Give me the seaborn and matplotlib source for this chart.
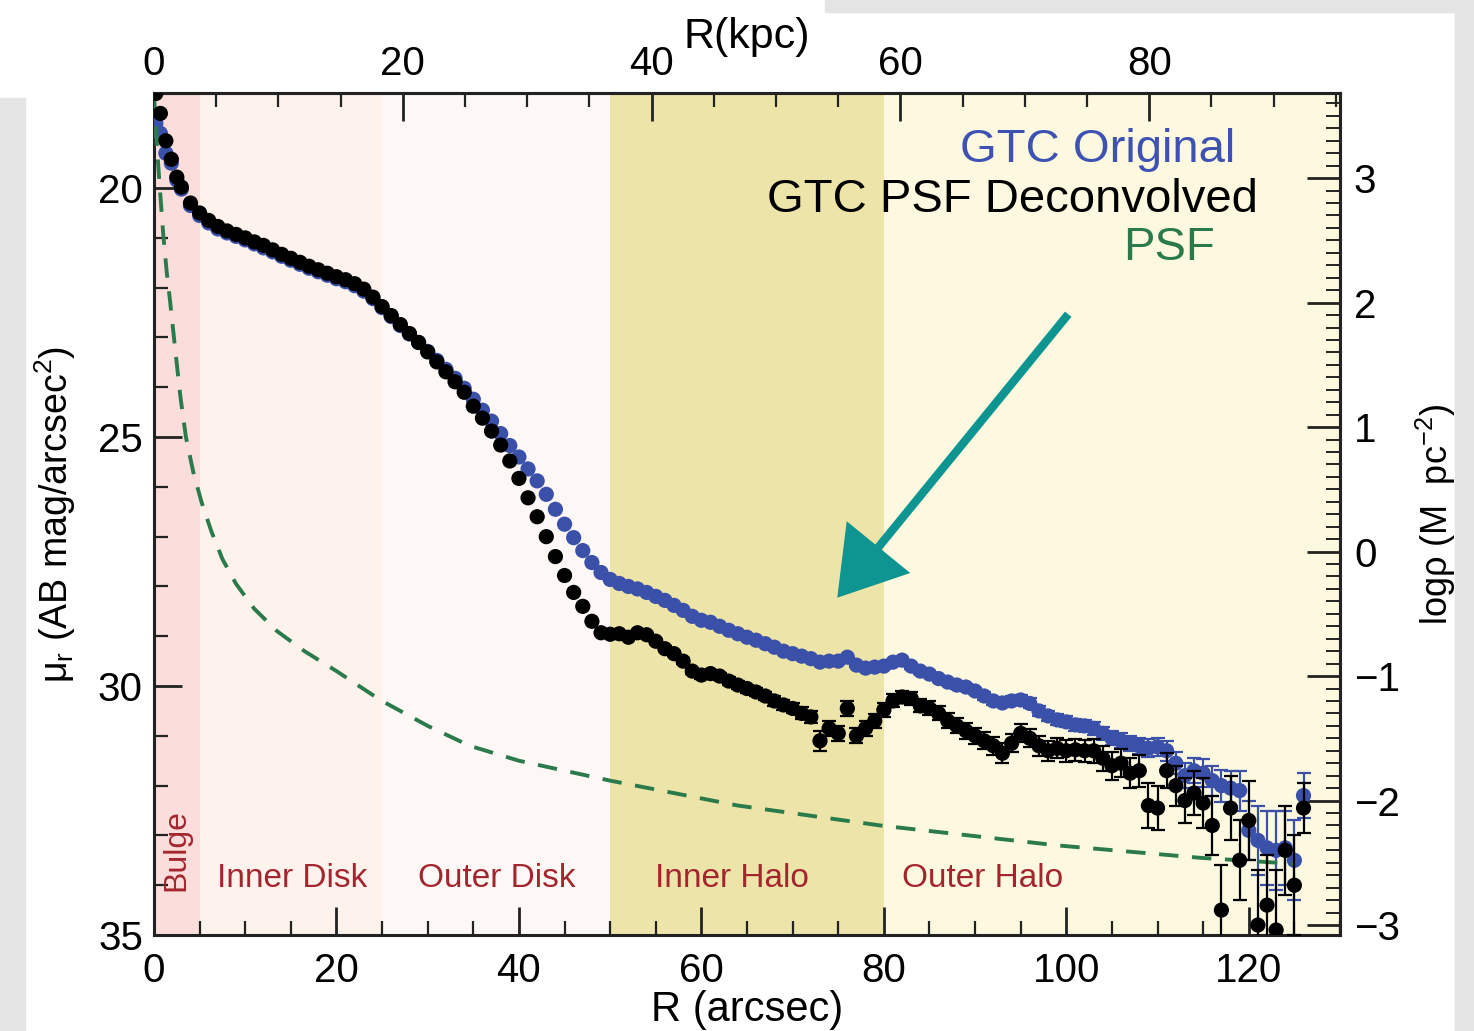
import numpy as np
import pandas as pd
import matplotlib
matplotlib.use("Agg")
import matplotlib.pyplot as plt
import seaborn as sns
from matplotlib.ticker import MultipleLocator, FixedLocator
from matplotlib.patches import Rectangle, FancyArrowPatch

# ---------------- data ----------------
R_arcsec = [0.2, 0.7, 1.3, 1.9, 2.5,
            3, 4, 5, 6, 7, 8, 9, 10, 11, 12, 13, 14, 15, 16, 17, 18, 19, 20,
            21, 22, 23, 24, 25, 26, 27, 28, 29, 30, 31, 32, 33, 34, 35, 36, 37, 38,
            39, 40, 41, 42, 43, 44, 45, 46, 47, 48, 49, 50, 51, 52, 53, 54, 55, 56,
            57, 58, 59, 60, 61, 62, 63, 64, 65, 66, 67, 68, 69, 70, 71, 72, 73, 74,
            75, 76, 77, 78, 79, 80, 81, 82, 83, 84, 85, 86, 87, 88, 89, 90, 91, 92,
            93, 94, 95, 96, 97, 98, 99, 100, 101, 102, 103, 104, 105, 106, 107, 108,
            109, 110, 111, 112, 113, 114, 115, 116, 117, 118, 119, 120, 121, 122,
            123, 124, 125, 126]

mu_deconvolved = [18.10, 18.50, 19.05, 19.42, 19.78,
                  19.98, 20.30, 20.50, 20.65, 20.77, 20.86, 20.93, 21.00, 21.08, 21.15,
                  21.24, 21.33, 21.41, 21.49, 21.57, 21.64, 21.71, 21.78, 21.84, 21.92,
                  22.03, 22.19, 22.38, 22.56, 22.74, 22.92, 23.10, 23.29, 23.49, 23.69,
                  23.89, 24.10, 24.38, 24.62, 24.88, 25.16, 25.48, 25.83, 26.22, 26.60,
                  27.00, 27.40, 27.78, 28.12, 28.40, 28.70, 28.93, 28.96, 28.95, 29.02,
                  28.93, 28.97, 29.10, 29.25, 29.35, 29.50, 29.70, 29.78, 29.75, 29.80,
                  29.90, 29.98, 30.05, 30.12, 30.20, 30.30, 30.38, 30.45, 30.55, 30.62,
                  31.10, 30.85, 30.95, 30.45, 31.00, 30.85, 30.70, 30.48, 30.30, 30.22,
                  30.25, 30.40, 30.45, 30.55, 30.70, 30.80, 30.90, 31.00, 31.10, 31.20,
                  31.35, 31.15, 30.95, 31.05, 31.20, 31.30, 31.25, 31.30, 31.28, 31.30,
                  31.30, 31.45, 31.60, 31.55, 31.75, 31.70, 32.40, 32.45, 31.70, 32.00,
                  32.30, 32.15, 32.35, 32.80, 34.50, 32.45, 33.50, 32.70, 34.80, 34.40,
                  34.90, 33.30, 34.00, 32.45]

err_deconvolved = [0.02, 0.02, 0.02, 0.02, 0.02,
                   0.02, 0.02, 0.02, 0.02, 0.02, 0.02, 0.02, 0.02, 0.02, 0.02,
                   0.02, 0.02, 0.02, 0.02, 0.02, 0.02, 0.02, 0.02, 0.02, 0.02,
                   0.02, 0.02, 0.02, 0.02, 0.02, 0.02, 0.02, 0.02, 0.02, 0.02,
                   0.02, 0.02, 0.02, 0.02, 0.02, 0.02, 0.02, 0.02, 0.02, 0.02,
                   0.02, 0.02, 0.02, 0.02, 0.03, 0.03, 0.03, 0.04, 0.04, 0.04,
                   0.04, 0.04, 0.05, 0.05, 0.05, 0.06, 0.06, 0.07, 0.07, 0.07,
                   0.08, 0.08, 0.08, 0.09, 0.09, 0.10, 0.10, 0.10, 0.12, 0.12,
                   0.20, 0.15, 0.15, 0.15, 0.15, 0.15, 0.14, 0.14, 0.13, 0.13,
                   0.13, 0.13, 0.14, 0.14, 0.15, 0.15, 0.16, 0.16, 0.17, 0.18,
                   0.20, 0.18, 0.18, 0.18, 0.20, 0.20, 0.20, 0.22, 0.22, 0.22,
                   0.24, 0.25, 0.28, 0.28, 0.30, 0.32, 0.45, 0.45, 0.35, 0.40,
                   0.45, 0.45, 0.50, 0.60, 0.90, 0.65, 0.80, 0.80, 1.10, 1.00,
                   1.20, 0.90, 1.00, 0.50]

mu_original = [18.70, 18.90, 19.30, 19.50, 19.84,
               20.02, 20.35, 20.55, 20.70, 20.82, 20.90, 20.97, 21.04, 21.12, 21.20,
               21.28, 21.37, 21.45, 21.53, 21.61, 21.68, 21.75, 21.82, 21.88, 21.96,
               22.07, 22.22, 22.40, 22.58, 22.76, 22.93, 23.10, 23.28, 23.46, 23.64,
               23.82, 24.02, 24.24, 24.46, 24.68, 24.93, 25.17, 25.40, 25.64, 25.88,
               26.15, 26.45, 26.75, 27.02, 27.28, 27.52, 27.72, 27.86, 27.94, 28.00,
               28.05, 28.12, 28.20, 28.28, 28.38, 28.48, 28.60, 28.68, 28.72, 28.80,
               28.88, 28.95, 29.02, 29.08, 29.15, 29.22, 29.30, 29.35, 29.40, 29.45,
               29.52, 29.50, 29.50, 29.42, 29.58, 29.64, 29.62, 29.60, 29.52, 29.48,
               29.60, 29.70, 29.76, 29.85, 29.92, 29.98, 30.02, 30.10, 30.20, 30.30,
               30.34, 30.30, 30.28, 30.35, 30.50, 30.60, 30.68, 30.72, 30.78, 30.80,
               30.85, 30.95, 31.05, 31.10, 31.15, 31.20, 31.25, 31.22, 31.30, 31.55,
               31.80, 31.70, 31.75, 31.90, 32.00, 32.05, 32.10, 32.90, 33.10, 33.25,
               33.30, 33.25, 33.50, 32.20]

err_original = [0.02, 0.02, 0.02, 0.02, 0.02,
                0.02, 0.02, 0.02, 0.02, 0.02, 0.02, 0.02, 0.02, 0.02, 0.02,
                0.02, 0.02, 0.02, 0.02, 0.02, 0.02, 0.02, 0.02, 0.02, 0.02,
                0.02, 0.02, 0.02, 0.02, 0.02, 0.02, 0.02, 0.02, 0.02, 0.02,
                0.02, 0.02, 0.02, 0.02, 0.02, 0.02, 0.02, 0.02, 0.02, 0.02,
                0.02, 0.02, 0.02, 0.02, 0.02, 0.02, 0.02, 0.02, 0.02, 0.02,
                0.02, 0.02, 0.02, 0.02, 0.02, 0.02, 0.02, 0.02, 0.02, 0.02,
                0.03, 0.03, 0.03, 0.03, 0.03, 0.03, 0.03, 0.03, 0.04, 0.04,
                0.04, 0.04, 0.04, 0.04, 0.04, 0.05, 0.05, 0.05, 0.05, 0.05,
                0.05, 0.05, 0.06, 0.06, 0.06, 0.07, 0.07, 0.07, 0.08, 0.08,
                0.08, 0.09, 0.09, 0.10, 0.10, 0.10, 0.11, 0.11, 0.12, 0.12,
                0.13, 0.13, 0.14, 0.15, 0.15, 0.16, 0.18, 0.18, 0.20, 0.22,
                0.25, 0.25, 0.28, 0.30, 0.32, 0.35, 0.40, 0.60, 0.70, 0.75,
                0.80, 0.75, 0.80, 0.45]

psf_R = [0.0, 0.3, 0.6, 1.0, 1.4, 1.75, 2.3, 2.9, 3.5, 4.3, 5.2, 6.3, 7.5, 9.0,
         11.0, 13.5, 16.5, 20.0, 24.8, 30.0, 34.6, 40.0, 50.0, 64.0, 79.6, 99.0,
         114.7, 125.0]
psf_mu = [18.10, 19.10, 19.90, 20.90, 21.70, 22.25, 23.20, 24.20, 25.00, 25.70,
          26.30, 26.90, 27.45, 27.95, 28.45, 28.90, 29.30, 29.70, 30.28, 30.80,
          31.20, 31.50, 31.90, 32.40, 32.80, 33.20, 33.45, 33.57]

region_names = ["Bulge", "Inner Disk", "Outer Disk", "Inner Halo", "Outer Halo"]
region_edges = [0, 5, 25, 50, 80, 130]
region_colors = ["#fbdedb", "#fdf2ec", "#fdf8f6", "#ece4a8", "#fcf9e0"]
region_label_x = [2.4, 15.1, 37.6, 63.3, 90.8]

bottom_ticks = [0, 20, 40, 60, 80, 100, 120]
left_ticks = [20, 25, 30, 35]
top_ticks = [0, 20, 40, 60, 80]
right_ticks = [-3, -2, -1, 0, 1, 2, 3]

KPC_PER_ARCSEC = 0.7333
LOGRHO_ZP = 10.92

# ---------------- style ----------------
sns.set_theme(style="white")
plt.rcParams['font.family'] = ['Liberation Sans', 'DejaVu Sans']
plt.rcParams['mathtext.fontset'] = 'custom'
plt.rcParams['mathtext.rm'] = 'Liberation Sans'
plt.rcParams['mathtext.it'] = 'Liberation Sans:italic'
plt.rcParams['axes.unicode_minus'] = True
for key in ['text.color', 'axes.labelcolor', 'xtick.color', 'ytick.color']:
    plt.rcParams[key] = 'black'

W, H = 1474, 1031
fig = plt.figure(figsize=(W / 100, H / 100), dpi=100)
fig.patch.set_facecolor('white')
for (x0, y0, w, h) in [(0, 0, 25 / W, (H - 98) / H),
                       (1455 / W, 0, 19 / W, 1 - 12 / H),
                       (825 / W, 1 - 12 / H, 1 - 825 / W, 12 / H)]:
    fig.patches.append(Rectangle((x0, y0), w, h, transform=fig.transFigure,
                                 color='#e4e4e4', zorder=0))

ax = fig.add_axes([154 / W, 1 - 935 / H, (1340 - 154) / W, (935 - 93) / H])

for i, name in enumerate(region_names):
    ax.axvspan(region_edges[i], region_edges[i + 1], color=region_colors[i],
               lw=0, zorder=0)

df_orig = pd.DataFrame({"R": R_arcsec, "mu": mu_original, "err": err_original})
df_dec = pd.DataFrame({"R": R_arcsec, "mu": mu_deconvolved, "err": err_deconvolved})

blue = '#3b50a9'
ax.errorbar(df_orig["R"], df_orig["mu"], yerr=df_orig["err"], fmt='none',
            ecolor=blue, elinewidth=1.6, capsize=5, capthick=1.6, zorder=2)
sns.scatterplot(data=df_orig, x="R", y="mu", color=blue, s=120,
                edgecolor='none', ax=ax, zorder=3)
ax.errorbar(df_dec["R"], df_dec["mu"], yerr=df_dec["err"], fmt='none',
            ecolor='black', elinewidth=1.6, capsize=5, capthick=1.6, zorder=4)
sns.scatterplot(data=df_dec, x="R", y="mu", color='black', s=120,
                edgecolor='none', ax=ax, zorder=5)

sns.lineplot(x=psf_R, y=psf_mu, ax=ax, color='#2b7a4b', linewidth=2.8,
             linestyle=(0, (5, 3.5)), sort=False, zorder=3)

ax.set_xlim(0, 130)
ax.set_ylim(35, 18.09)

ax.xaxis.set_major_locator(FixedLocator(bottom_ticks))
ax.xaxis.set_minor_locator(MultipleLocator(5))
ax.yaxis.set_major_locator(FixedLocator(left_ticks))
ax.yaxis.set_minor_locator(MultipleLocator(1))
ax.tick_params(which='major', direction='in', length=20, width=2, labelsize=29,
               top=False, right=False, bottom=True, left=True, color='#222222')
ax.tick_params(which='minor', direction='in', length=10, width=1.6,
               top=False, right=False, bottom=True, left=True, color='#222222')
ax.tick_params(axis='x', pad=12)
ax.tick_params(axis='y', pad=8)
for sp in ax.spines.values():
    sp.set_linewidth(2.2)
    sp.set_color('#222222')

ax.set_xlabel('R (arcsec)', fontsize=30, labelpad=0)
ax.set_ylabel(r'$\mathregular{\mu_r}$ (AB mag/arcsec$^{2}$)', fontsize=27, labelpad=14)

top = ax.secondary_xaxis('top', functions=(lambda a: a * KPC_PER_ARCSEC,
                                           lambda k: k / KPC_PER_ARCSEC))
top.xaxis.set_major_locator(FixedLocator(top_ticks))
top.xaxis.set_minor_locator(MultipleLocator(5))
top.tick_params(which='major', direction='in', length=20, width=2, labelsize=29,
                pad=7, color='#222222')
top.tick_params(which='minor', direction='in', length=10, width=1.6, color='#222222')
top.set_xlabel('R(kpc)', fontsize=31, labelpad=-2)
top.spines['top'].set_linewidth(2.2)

right = ax.secondary_yaxis('right', functions=(lambda m: LOGRHO_ZP - 0.4 * m,
                                               lambda r: (LOGRHO_ZP - r) / 0.4))
right.yaxis.set_major_locator(FixedLocator(right_ticks))
right.yaxis.set_minor_locator(MultipleLocator(0.1))
right.tick_params(which='major', direction='in', length=24, width=2, labelsize=29,
                  pad=10, color='#222222')
right.tick_params(which='minor', direction='in', length=10, width=1.4, color='#222222')
right.set_ylabel('log\u03c1 (M  pc$^{-2}$)', fontsize=26, labelpad=10)
right.spines['right'].set_linewidth(2.2)

label_color = '#a3262e'
for name, xl in zip(region_names, region_label_x):
    if name == "Bulge":
        ax.text(xl, 33.3, name, color=label_color, fontsize=23, rotation=90,
                ha='center', va='center', zorder=6)
    else:
        ax.text(xl, 33.86, name, color=label_color, fontsize=24,
                ha='center', va='center', zorder=6)

ax.text(118.5, 19.24, 'GTC Original', color='#3d52b3', fontsize=34,
        ha='right', va='center', zorder=6)
ax.text(121.0, 20.24, 'GTC PSF Deconvolved', color='black', fontsize=34,
        ha='right', va='center', zorder=6)
ax.text(116.3, 21.2, 'PSF', color='#2b7a4b', fontsize=34,
        ha='right', va='center', zorder=6)

arrow = FancyArrowPatch((100.4, 22.49), (74.7, 28.27),
                        arrowstyle='simple,head_length=4.7,head_width=5.9,tail_width=0.6',
                        mutation_scale=10, color='#0e9591', lw=0, zorder=7)
ax.add_patch(arrow)

fig.savefig('out.png', dpi=100)
